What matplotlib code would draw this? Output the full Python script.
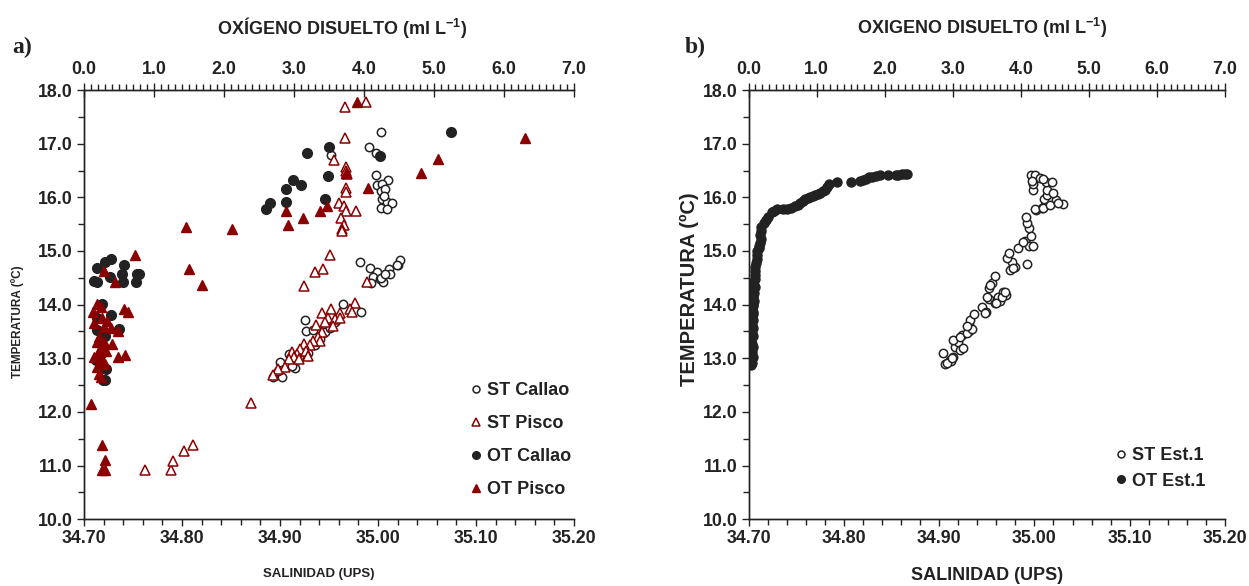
import numpy as np
import matplotlib.pyplot as plt
from matplotlib.ticker import MultipleLocator, FormatStrFormatter
from matplotlib.lines import Line2D

plt.rcParams['font.family'] = ['Liberation Sans', 'DejaVu Sans']
plt.rcParams['font.weight'] = 'bold'
plt.rcParams['mathtext.fontset'] = 'custom'
plt.rcParams['mathtext.rm'] = 'Liberation Sans:bold'
plt.rcParams['mathtext.default'] = 'regular'

TXT = '#222222'
RED = '#8B0000'
BLK = '#222222'

# ---- panel a: salinity-temperature (ST) and oxygen-temperature (OT) ----
st_callao_sal = [35.003, 34.991, 34.998, 34.952, 34.998, 35.010, 34.999, 35.004, 35.003, 35.007,
                 35.004, 35.009, 35.014, 35.003, 35.009, 35.006,
                 34.982, 34.992, 34.999, 34.995, 35.002, 35.011, 35.012, 35.020, 35.022, 35.005,
                 34.993, 35.003, 35.007, 35.019,
                 34.983, 34.964, 34.925, 34.926, 34.934, 34.900, 34.893, 34.902, 34.915, 34.929,
                 34.909, 34.936, 34.946, 34.919, 34.898, 34.951, 34.956, 34.941, 34.912]
st_callao_temp = [17.21, 16.94, 16.83, 16.79, 16.41, 16.33, 16.23, 16.25, 16.12, 16.15,
                  15.97, 15.92, 15.89, 15.81, 15.78, 16.03,
                  14.79, 14.69, 14.60, 14.51, 14.48, 14.66, 14.58, 14.74, 14.84, 14.42,
                  14.40, 14.49, 14.57, 14.73,
                  13.87, 14.01, 13.72, 13.50, 13.53, 12.93, 12.65, 12.65, 12.82, 13.10,
                  13.08, 13.24, 13.49, 13.02, 12.77, 13.57, 13.67, 13.36, 12.85]

st_pisco_sal = [34.966, 34.988, 34.966, 34.955, 34.967, 34.967, 34.968, 34.967, 34.967, 34.960,
                34.965, 34.967, 34.977, 34.962, 34.965, 34.963, 34.963, 34.951, 34.936, 34.944,
                34.924, 34.989,
                34.870, 34.762, 34.789, 34.791, 34.802, 34.811,
                34.976, 34.971, 34.973, 34.952, 34.943, 34.961, 34.949, 34.956, 34.954, 34.937,
                34.946, 34.943, 34.939, 34.941, 34.934, 34.931, 34.924, 34.920, 34.917, 34.912,
                34.914, 34.909, 34.905, 34.898, 34.893, 34.919, 34.926, 34.929, 34.961]
st_pisco_temp = [17.69, 17.78, 17.10, 16.70, 16.57, 16.49, 16.44, 16.17, 16.10, 15.89,
                 15.83, 15.74, 15.74, 15.61, 15.48, 15.41, 15.38, 14.92, 14.61, 14.66,
                 14.35, 14.43,
                 12.16, 10.91, 10.91, 11.08, 11.27, 11.39,
                 14.03, 13.92, 13.87, 13.92, 13.84, 13.84, 13.75, 13.73, 13.61, 13.63,
                 13.67, 13.49, 13.39, 13.33, 13.33, 13.24, 13.27, 13.18, 13.08, 13.11,
                 13.02, 12.99, 12.83, 12.80, 12.68, 12.99, 13.14, 13.05, 13.76]

ot_callao_oxy = [3.18, 3.50, 2.99, 3.10, 2.89, 3.49, 2.89, 2.65, 2.60, 3.44, 4.23, 5.24,
                 0.19, 0.30, 0.39, 0.57, 0.54, 0.76, 0.74, 0.14, 0.19, 0.37, 0.55, 0.79,
                 0.25, 0.38, 0.50, 0.19, 0.30, 0.24, 0.31, 0.24, 0.30, 0.17, 0.19, 0.27]
ot_callao_temp = [16.82, 16.94, 16.33, 16.23, 16.16, 16.40, 15.92, 15.89, 15.78, 15.96, 16.77, 17.22,
                  14.69, 14.79, 14.85, 14.74, 14.58, 14.57, 14.43, 14.45, 14.42, 14.51, 14.42, 14.58,
                  14.01, 13.81, 13.55, 13.52, 13.42, 13.08, 12.80, 12.83, 12.59, 12.96, 13.76, 12.60]

ot_pisco_oxy = [1.45, 2.12, 1.50, 1.69, 2.89, 2.91, 3.13, 3.37, 3.47, 4.05, 3.90, 4.82, 5.05, 6.30,
                3.74,
                0.73, 0.29, 0.44, 0.19, 0.57, 0.63, 0.13, 0.24, 0.14, 0.26, 0.33, 0.29, 0.38, 0.49,
                0.21, 0.19, 0.28, 0.40, 0.24, 0.31, 0.14, 0.48, 0.59, 0.26, 0.19, 0.21, 0.24,
                0.10, 0.25, 0.30, 0.26, 0.30, 0.20, 0.30]
ot_pisco_temp = [15.44, 15.41, 14.66, 14.37, 15.74, 15.48, 15.61, 15.74, 15.84, 16.18, 17.78, 16.46, 16.71, 17.10,
                 16.45,
                 14.93, 14.62, 14.43, 14.02, 13.92, 13.86, 13.86, 13.95, 13.65, 13.76, 13.70, 13.59, 13.57, 13.50,
                 13.39, 13.30, 13.30, 13.26, 13.21, 13.14, 13.02, 13.02, 13.07, 12.96, 12.83, 12.71, 12.65,
                 12.15, 11.39, 11.10, 10.91, 10.91, 13.10, 12.90]

# ---- panel b: station 1 ----
st_est1_sal = [34.906, 34.904, 34.911, 34.915, 34.917, 34.920, 34.924, 34.922, 34.925, 34.931,
               34.931, 34.932, 34.937, 34.945, 34.949, 34.952, 34.959, 34.964, 34.962, 34.967,
               34.970, 34.952, 34.955, 34.959, 34.974, 34.980, 34.976, 34.971, 34.973, 34.992,
               34.983, 34.990, 34.994, 34.998, 34.996, 34.994, 34.992, 34.991, 35.002, 35.008,
               35.011, 35.010, 35.013, 35.013, 34.999, 34.999, 34.998, 34.996, 35.001, 35.006,
               35.012, 35.030, 35.023, 35.020, 35.018, 35.009, 35.001, 35.009, 35.016, 35.025,
               34.915, 34.922, 34.929, 34.934, 34.929, 34.948, 34.950, 34.953, 34.960, 34.966,
               34.969, 34.978, 34.988, 34.997, 34.912, 34.908, 34.913]
st_est1_temp = [12.89, 13.09, 12.97, 13.03, 13.22, 13.31, 13.43, 13.15, 13.19, 13.50,
                13.62, 13.71, 13.83, 13.96, 13.87, 14.10, 14.03, 14.06, 14.15, 14.24,
                14.18, 14.31, 14.40, 14.54, 14.65, 14.71, 14.80, 14.87, 14.97, 14.76,
                15.05, 15.18, 15.10, 15.10, 15.28, 15.43, 15.53, 15.63, 15.77, 15.80,
                15.86, 15.97, 16.05, 16.13, 16.14, 16.24, 16.34, 16.42, 16.42, 16.36,
                16.28, 15.87, 15.95, 16.08, 16.28, 16.34, 15.79, 15.80, 15.86, 15.89,
                13.34, 13.40, 13.48, 13.55, 13.60, 13.84, 14.15, 14.37, 14.03, 14.15,
                14.24, 14.68, 15.16, 16.30, 12.95, 12.92, 13.00]

ot_est1_oxy = [0.03, 0.05, 0.04, 0.06, 0.03, 0.05, 0.04, 0.06, 0.05, 0.03, 0.04, 0.06, 0.05,
               0.04, 0.07, 0.05, 0.04, 0.06, 0.05, 0.07, 0.06, 0.05, 0.07, 0.06, 0.08, 0.07,
               0.06, 0.08, 0.07, 0.09, 0.08, 0.07, 0.09,
               0.09, 0.10, 0.10, 0.11, 0.12, 0.12, 0.13, 0.15, 0.16, 0.17, 0.18, 0.17, 0.18,
               0.19, 0.22, 0.26, 0.29, 0.34, 0.38, 0.42, 0.50, 0.56, 0.63, 0.68, 0.72, 0.76,
               0.80, 0.83, 0.87, 0.90, 0.94, 0.98, 1.02, 1.05, 1.09, 1.12, 1.15, 1.18, 1.30,
               1.50, 1.64, 1.68, 1.72, 1.77, 1.81, 1.87, 1.93, 2.05, 2.16, 2.20, 2.25, 2.30, 2.33]
ot_est1_temp = [12.88, 12.92, 12.97, 13.02, 13.07, 13.12, 13.17, 13.22, 13.27, 13.32, 13.37, 13.42, 13.47,
                13.52, 13.57, 13.62, 13.67, 13.72, 13.77, 13.82, 13.87, 13.92, 13.97, 14.02, 14.07, 14.12,
                14.17, 14.22, 14.27, 14.32, 14.37, 14.42, 14.47,
                14.55, 14.62, 14.70, 14.78, 14.85, 14.93, 15.00, 15.05, 15.10, 15.15, 15.22, 15.30, 15.38,
                15.45, 15.52, 15.58, 15.63, 15.72, 15.75, 15.78, 15.78, 15.78, 15.80, 15.83, 15.86, 15.89,
                15.93, 15.97, 15.99, 16.01, 16.03, 16.05, 16.07, 16.09, 16.11, 16.13, 16.20, 16.25, 16.29,
                16.29, 16.31, 16.33, 16.35, 16.37, 16.38, 16.40, 16.42, 16.42, 16.42, 16.42, 16.43, 16.43, 16.43]


def setup_axes(ax, ax2, xlab_size, ylab_size):
    ax.set_xlim(34.70, 35.20)
    ax.set_ylim(10.0, 18.0)
    ax2.set_xlim(0.0, 7.0)
    ax.xaxis.set_major_locator(MultipleLocator(0.1))
    ax.xaxis.set_minor_locator(MultipleLocator(0.02))
    ax.xaxis.set_major_formatter(FormatStrFormatter('%.2f'))
    ax.yaxis.set_major_locator(MultipleLocator(1.0))
    ax.yaxis.set_minor_locator(MultipleLocator(0.5))
    ax.yaxis.set_major_formatter(FormatStrFormatter('%.1f'))
    ax2.xaxis.set_major_locator(MultipleLocator(1.0))
    ax2.xaxis.set_minor_locator(MultipleLocator(0.1))
    ax2.xaxis.set_major_formatter(FormatStrFormatter('%.1f'))
    for a in (ax, ax2):
        a.spines['right'].set_visible(False)
        for s in a.spines.values():
            s.set_color(TXT)
            s.set_linewidth(1.0)
    ax.tick_params(axis='both', which='major', direction='out', length=5, width=1,
                   colors=TXT, labelsize=12.8, pad=3)
    ax.tick_params(axis='both', which='minor', direction='out', length=4, width=1, colors=TXT)
    ax2.tick_params(axis='x', which='major', direction='inout', length=10, width=1,
                    colors=TXT, labelsize=12.8, pad=4)
    ax2.tick_params(axis='x', which='minor', direction='out', length=4, width=1, colors=TXT)
    for t in ax.get_xticklabels() + ax.get_yticklabels() + ax2.get_xticklabels():
        t.set_fontweight('bold')
    ax.set_xlabel('SALINIDAD (UPS)', fontsize=xlab_size, fontweight='bold', color=TXT)
    ax.set_ylabel('TEMPERATURA (ºC)', fontsize=ylab_size, fontweight='bold', color=TXT)


fig = plt.figure(figsize=(12.49, 5.86), dpi=100)

# panel a
axa = fig.add_axes([0.0673, 0.1138, 0.3923, 0.7326])
axa2 = axa.twiny()
setup_axes(axa, axa2, 9.5, 8.5)
axa.plot(st_callao_sal, st_callao_temp, 'o', ms=6, mfc='white', mec=BLK, mew=1.1, ls='none')
axa.plot(st_pisco_sal, st_pisco_temp, '^', ms=6.5, mfc='white', mec=RED, mew=1.1, ls='none')
axa2.plot(ot_callao_oxy, ot_callao_temp, 'o', ms=7, mfc=BLK, mec=BLK, ls='none')
axa2.plot(ot_pisco_oxy, ot_pisco_temp, '^', ms=7, mfc=RED, mec=RED, ls='none')
axa2.set_xlabel('OXÍGENO DISUELTO (ml L$^{-1}$)', fontsize=13, fontweight='bold', color=TXT)
axa2.xaxis.set_label_coords(0.527, 1.13)
axa.xaxis.set_label_coords(0.48, -0.113)
axa.yaxis.set_label_coords(-0.123, 0.46)

handles_a = [
    Line2D([], [], marker='o', ls='none', ms=5, mfc='white', mec=BLK, mew=1.1, label='ST Callao'),
    Line2D([], [], marker='^', ls='none', ms=5.5, mfc='white', mec=RED, mew=1.1, label='ST Pisco'),
    Line2D([], [], marker='o', ls='none', ms=5.5, mfc=BLK, mec=BLK, label='OT Callao'),
    Line2D([], [], marker='^', ls='none', ms=6, mfc=RED, mec=RED, label='OT Pisco'),
]
leg = axa2.legend(handles=handles_a, loc='upper left', bbox_to_anchor=(0.774, 0.336),
                  frameon=False, prop={'size': 13, 'weight': 'bold'},
                  handlelength=0.6, handletextpad=0.3, labelspacing=0.88, borderaxespad=0)
for t in leg.get_texts():
    t.set_color(TXT)
fig.text(0.010, 0.91, 'a)', fontsize=17, fontweight='bold', family='Liberation Serif', color=TXT)

# panel b
axb = fig.add_axes([0.5993, 0.1138, 0.3815, 0.7326])
axb2 = axb.twiny()
setup_axes(axb, axb2, 13, 14.5)
axb.plot(st_est1_sal, st_est1_temp, 'o', ms=6, mfc='white', mec=BLK, mew=1.1, ls='none')
axb2.plot(ot_est1_oxy, ot_est1_temp, 'o', ms=6.5, mfc=BLK, mec=BLK, ls='none')
axb2.set_xlabel('OXIGENO DISUELTO (ml L$^{-1}$)', fontsize=13, fontweight='bold', color=TXT)
axb2.xaxis.set_label_coords(0.49, 1.13)
axb.xaxis.set_label_coords(0.5, -0.111)
axb.yaxis.set_label_coords(-0.104, 0.536)

handles_b = [
    Line2D([], [], marker='o', ls='none', ms=5, mfc='white', mec=BLK, mew=1.1, label='ST Est.1'),
    Line2D([], [], marker='o', ls='none', ms=5.5, mfc=BLK, mec=BLK, label='OT Est.1'),
]
leg = axb2.legend(handles=handles_b, loc='upper left', bbox_to_anchor=(0.755, 0.185),
                  frameon=False, prop={'size': 13, 'weight': 'bold'},
                  handlelength=0.6, handletextpad=0.3, labelspacing=0.48, borderaxespad=0)
for t in leg.get_texts():
    t.set_color(TXT)
fig.text(0.548, 0.91, 'b)', fontsize=17, fontweight='bold', family='Liberation Serif', color=TXT)

fig.savefig('out.png', dpi=100)
